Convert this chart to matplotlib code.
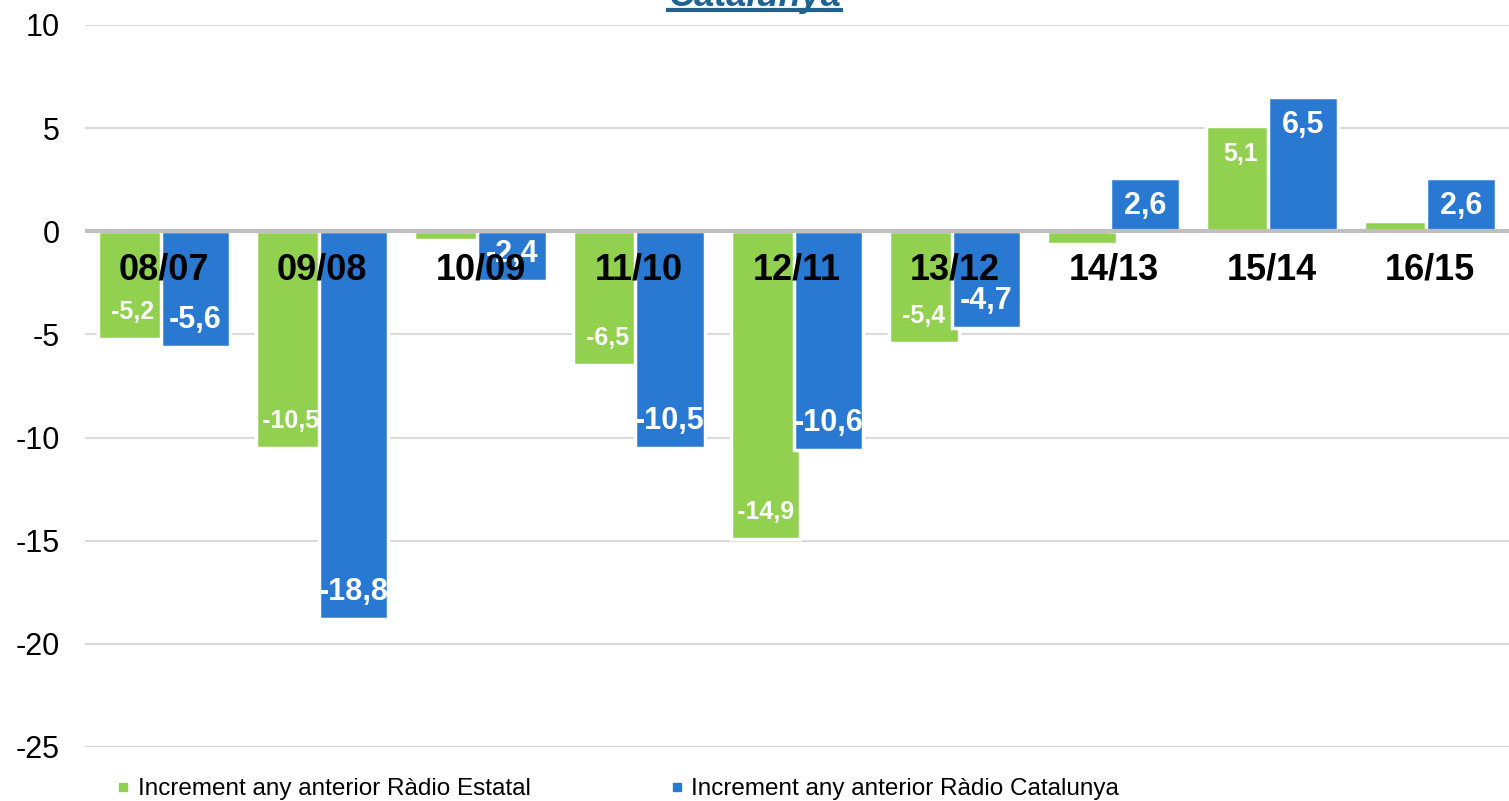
import matplotlib
matplotlib.use("Agg")
import matplotlib.pyplot as plt
import numpy as np
from matplotlib.lines import Line2D

categories = ["08/07", "09/08", "10/09", "11/10", "12/11", "13/12", "14/13", "15/14", "16/15"]
estatal = [-5.2, -10.5, -0.4, -6.5, -14.9, -5.4, -0.6, 5.1, 0.5]
catalunya = [-5.6, -18.8, -2.4, -10.5, -10.6, -4.7, 2.6, 6.5, 2.6]
series_names = ["Increment any anterior Ràdio Estatal", "Increment any anterior Ràdio Catalunya"]
yticks = [10, 5, 0, -5, -10, -15, -20, -25]
title = "Catalunya"

GREEN = "#92D050"
BLUE = "#2979D3"
FONT = "Liberation Sans"

plt.rcParams['font.family'] = [FONT, 'DejaVu Sans']

W, H = 1509, 801
fig = plt.figure(figsize=(W / 100, H / 100), dpi=100)
ax = fig.add_axes([85 / W, 1 - 747 / H, (W - 85) / W, (747 - 25) / H])

x = np.arange(len(categories))
width = 0.44
off = 0.198
b1 = ax.bar(x - off, estatal, width, color=GREEN, edgecolor="white", linewidth=2.5, zorder=2)
b2 = ax.bar(x + off, catalunya, width, color=BLUE, edgecolor="white", linewidth=2.5, zorder=3)

ax.set_xlim(-0.5, len(categories) - 0.5)
ax.set_ylim(-25, 10)
ax.set_yticks(yticks)
ax.set_yticklabels([str(v) for v in yticks], fontsize=22)
ax.tick_params(axis='y', length=0, pad=18)
ax.set_xticks([])
for s in ax.spines.values():
    s.set_visible(False)
ax.grid(axis='y', color="#d9d9d9", linewidth=1.5, zorder=0)
ax.set_axisbelow(True)
ax.axhline(0, color="#bfbfbf", linewidth=3, zorder=4)

def fmt(v):
    return f"{v:.1f}".replace(".", ",")

for bars, vals, fs in [(b1, estatal, 18), (b2, catalunya, 22)]:
    for rect, v in zip(bars, vals):
        cx = rect.get_x() + rect.get_width() / 2
        if abs(v) < 1:
            anchor, dy = max(v, 0), 15
        else:
            anchor, dy = v, (-28 if v > 0 else 27)
        ax.annotate(fmt(v), (cx, anchor), xytext=(0, dy), textcoords="offset pixels",
                    ha="center", va="center", color="white", fontsize=fs,
                    fontweight="bold", zorder=5)

for xi, c in zip(x, categories):
    ax.text(xi, -1.9, c, ha="center", va="center", fontsize=26, fontweight="bold",
            color="black", zorder=6)

# clipped title at top
t = fig.text(0.5, 1 - 6 / H, title, ha="center", va="baseline", fontsize=26,
             fontweight="bold", fontstyle="italic", color="#1F6391")
fig.canvas.draw()
bb = t.get_window_extent(renderer=fig.canvas.get_renderer())
fig.add_artist(Line2D([bb.x0 / W, bb.x1 / W], [1 - 10 / H, 1 - 10 / H],
                      transform=fig.transFigure, color="#1F6391", linewidth=3))

handles = [Line2D([], [], marker="s", linestyle="none", color=GREEN, markersize=6),
           Line2D([], [], marker="s", linestyle="none", color=BLUE, markersize=6)]
fig.legend(handles, series_names, loc="center left", bbox_to_anchor=(116 / W, 1 - 789 / H),
           ncol=2, frameon=False, fontsize=17.5, handlelength=0.6, handletextpad=0.3,
           columnspacing=5.7, borderaxespad=0, borderpad=0)

fig.savefig("out.png", dpi=100)
